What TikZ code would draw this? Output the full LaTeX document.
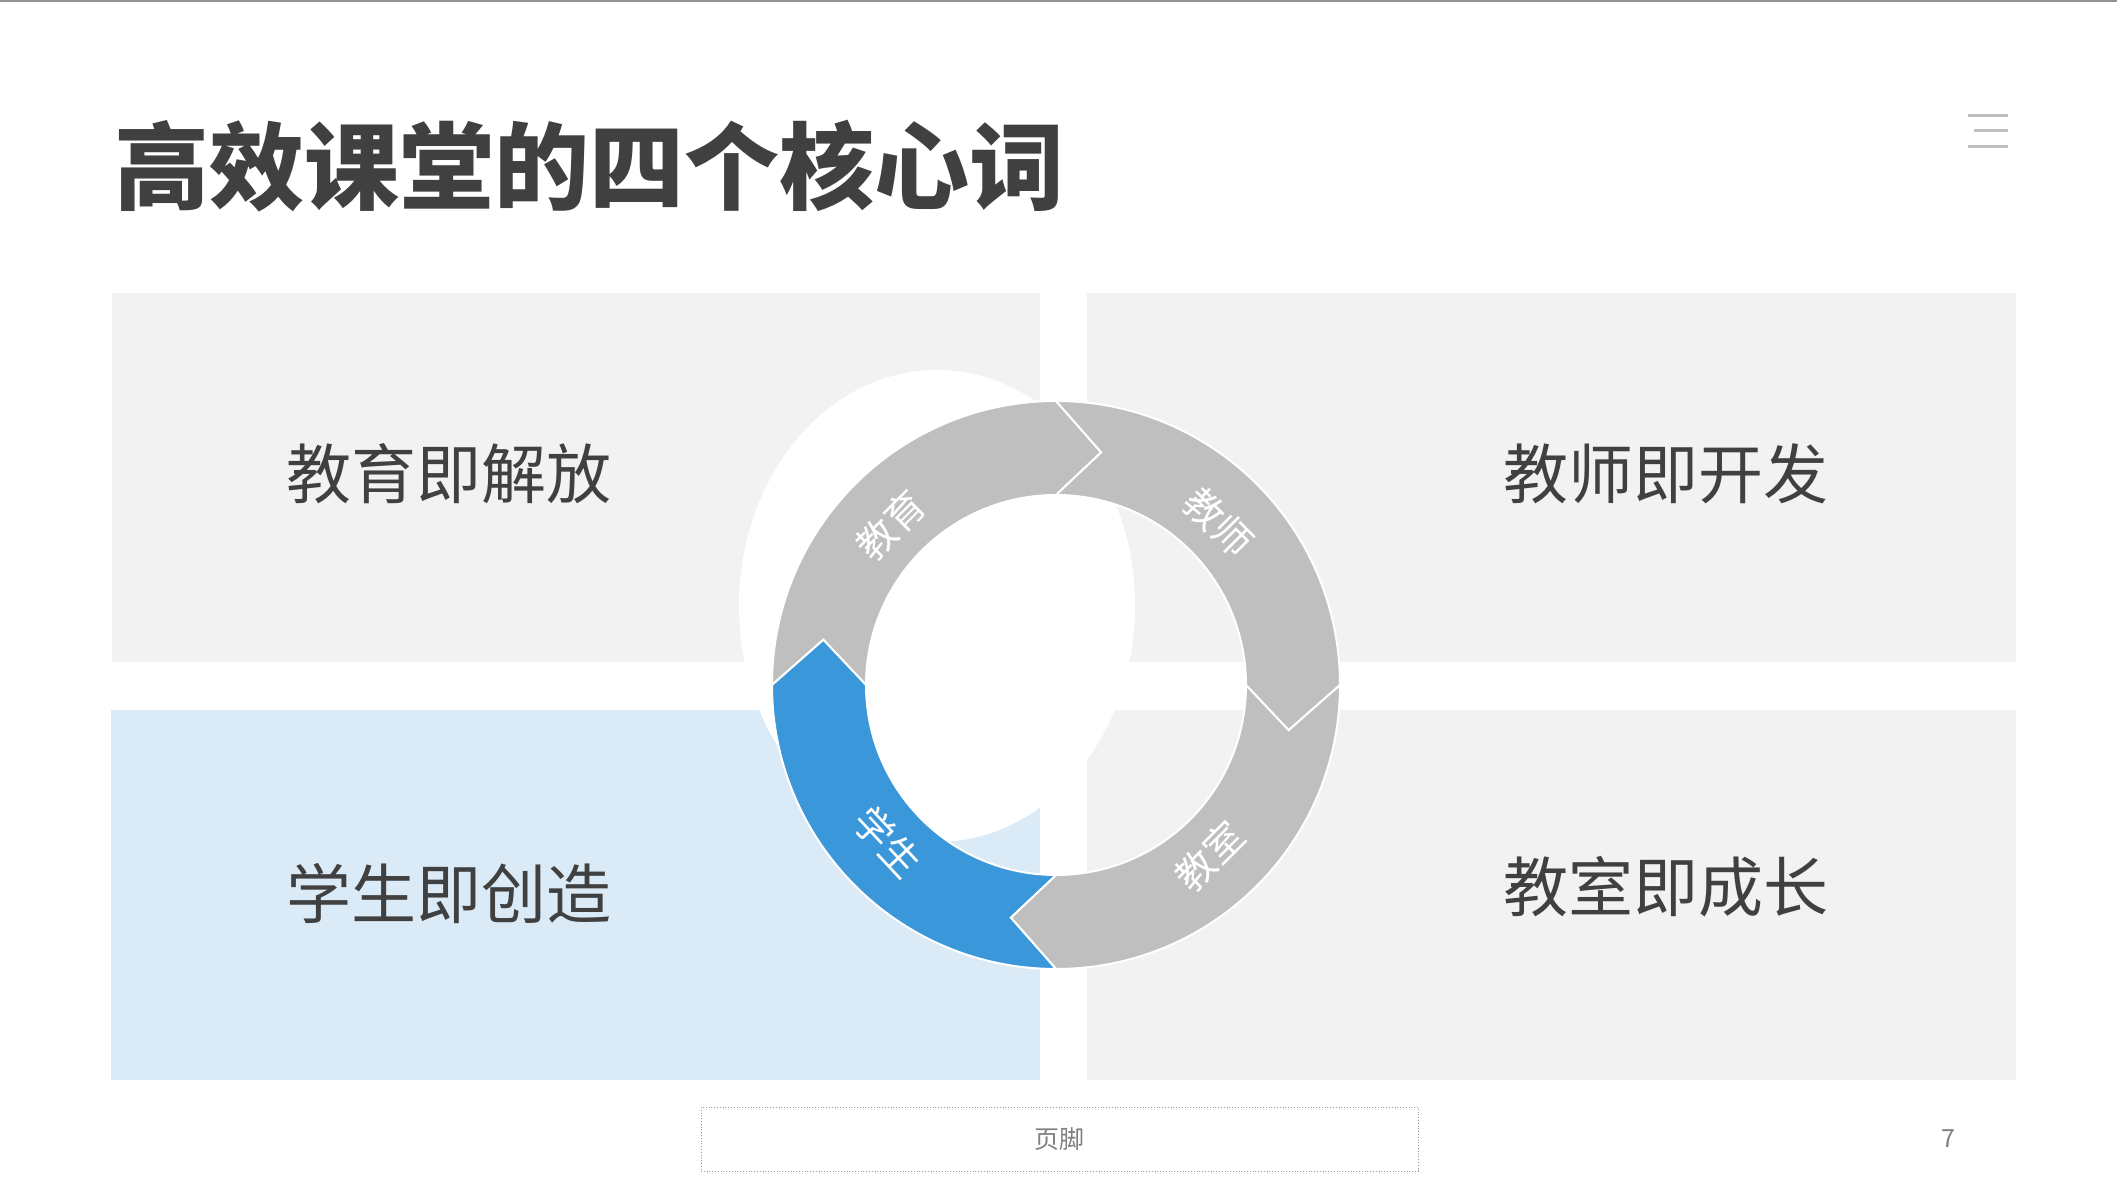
\documentclass[tikz,border=0pt]{standalone}
\usepackage{fontspec}
\setmainfont{Noto Sans CJK SC}

\definecolor{panelgray}{HTML}{F2F2F2}
\definecolor{panelblue}{HTML}{DAEAF7}
\definecolor{ringgray}{HTML}{BFBFBF}
\definecolor{ringblue}{HTML}{3A97DA}
\definecolor{textdark}{HTML}{404040}

\tikzset{
  word/.style={inner sep=0pt, text=textdark, font=\fontsize{32.5}{34}\selectfont},
  seglabel/.style={inner sep=0pt, text=white, font=\fontsize{19.5}{21}\selectfont},
  segment/.style={draw=white, line width=1pt, line join=miter},
  small/.style={inner sep=0pt, text=gray, font=\fontsize{12.5}{14}\selectfont},
}

\begin{document}
\begin{tikzpicture}[x=0.5pt, y=0.5pt]
\useasboundingbox (0,0) rectangle (2117,1193);
\fill[white] (0,0) rectangle (2117,1193);

% Top rule
\draw[gray!85, line width=1pt] (0,1192) -- (2117,1192);

% Title
\node[anchor=west, inner sep=0pt, text=textdark, font=\fontsize{47.5}{50}\selectfont\bfseries]
  (title) at (114,1027) {高效课堂的四个核心词};

% Menu icon
\foreach \y/\l in {1077/0, 1062/6, 1046/0}
  \draw[ringgray, line width=1.5pt] (1968+\l,\y) -- (2008,\y);

% Panels
\fill[panelgray] (112,531) rectangle (1040,900);
\fill[panelgray] (1087,531) rectangle (2016,900);
\fill[panelblue] (111,113) rectangle (1040,483);
\fill[panelgray] (1087,113) rectangle (2016,483);

% Backdrop behind the ring
\fill[white] (937,587) ellipse [x radius=198, y radius=236];

% Panel words
\node[word] (w1) at (449,719) {教育即解放};
\node[word] (w2) at (1666,719) {教师即开发};
\node[word] (w3) at (449,299) {学生即创造};
\node[word] (w4) at (1666,306) {教室即成长};

% Ring
\begin{scope}[shift={(1056,508)}]
\foreach \a/\c/\t/\p/\r [count=\i] in {90/ringgray/教育/136/45, 0/ringgray/教师/45/-45,
    -90/ringgray/教室/-48/45, 180/ringblue/学生/223/-47} {
  \draw[segment, fill=\c] (\a:284) arc (\a:\a+90:284) -- (\a+79:237)
    -- (\a+90:190) arc (\a+90:\a:190) -- (\a-11:237) -- cycle;
  \node[seglabel, rotate=\r] (seg\i) at (\p:230) {\t};
}
\end{scope}

% Footer
\node[draw=gray!80, densely dotted, minimum width=358.5pt, minimum height=32pt,
  text=gray, font=\fontsize{12.5}{14}\selectfont] (footer) at (1059.5,54) {页脚};
\node[small] (pagenum) at (1948,54) {7};
\end{tikzpicture}
\end{document}
